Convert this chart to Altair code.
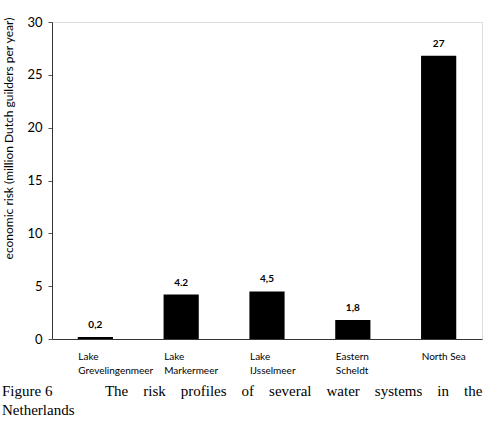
import altair as alt
import pandas as pd

categories = ["Lake\nGrevelingenmeer", "Lake\nMarkermeer", "Lake\nIJsselmeer", "Eastern\nScheldt", "North Sea"]
values = [0.2, 4.2, 4.5, 1.8, 26.8]
value_labels = ["0,2", "4.2", "4,5", "1,8", "27"]
y_ticks = [0, 5, 10, 15, 20, 25, 30]

df = pd.DataFrame({"cat": categories, "val": values, "lab": value_labels})

NB = "\u00a0"
caption = [
    "Figure 6" + NB * 14 + "The" + NB * 4 + "risk" + NB * 4 + "profiles" + NB * 4 + "of" + NB * 4
    + "several" + NB * 4 + "water" + NB * 4 + "systems" + NB * 4 + "in" + NB * 4 + "the",
    "Netherlands",
]

x = alt.X(
    "cat:N",
    sort=categories,
    scale=alt.Scale(paddingInner=0.59, paddingOuter=0.3),
    axis=alt.Axis(
        title=None,
        labelAngle=0,
        labelExpr="split(datum.label, '\\n')",
        labelAlign="left",
        labelOffset=-17,
        labelFont="Lato",
        labelFontSize=10,
        labelColor="black",
        labelPadding=12,
        labelLineHeight=14,
        ticks=False,
        domainColor="#333",
    ),
)
y = alt.Y(
    "val:Q",
    scale=alt.Scale(domain=[0, 30], nice=False),
    axis=alt.Axis(
        values=y_ticks,
        title="economic risk (million Dutch guilders per year)",
        titleFont="Lato",
        titleFontSize=12,
        titleFontWeight="normal",
        titleColor="black",
        titleX=-44,
        titleY=116,
        titleAngle=270,
        titleAlign="center",
        titleBaseline="middle",
        labelFont="Lato",
        labelFontSize=13,
        labelColor="black",
        labelPadding=6,
        tickSize=4,
        tickColor="#555",
        domainColor="#333",
        grid=False,
    ),
)

bars = alt.Chart(df).mark_bar(color="black").encode(x=x, y=y)
text = alt.Chart(df).mark_text(
    dy=-12, font="Lato", fontSize=10, fontWeight="bold", color="black"
).encode(x=alt.X("cat:N", sort=categories), y="val:Q", text="lab:N")

chart = (
    alt.layer(bars, text)
    .properties(
        width=430,
        height=317,
        autosize=alt.AutoSizeParams(type="none"),
        padding={"left": 52, "top": 22, "right": 1, "bottom": 88},
        title=alt.TitleParams(
            text=caption,
            orient="bottom",
            anchor="start",
            align="left",
            font="Liberation Serif",
            fontSize=15,
            fontWeight="normal",
            color="black",
            offset=9,
            lineHeight=19,
        ),
    )
    .configure_view(stroke="#333", strokeWidth=1)
    .configure(background="white")
)

chart.save("out.html", embed_options={"renderer": "svg", "actions": False})
